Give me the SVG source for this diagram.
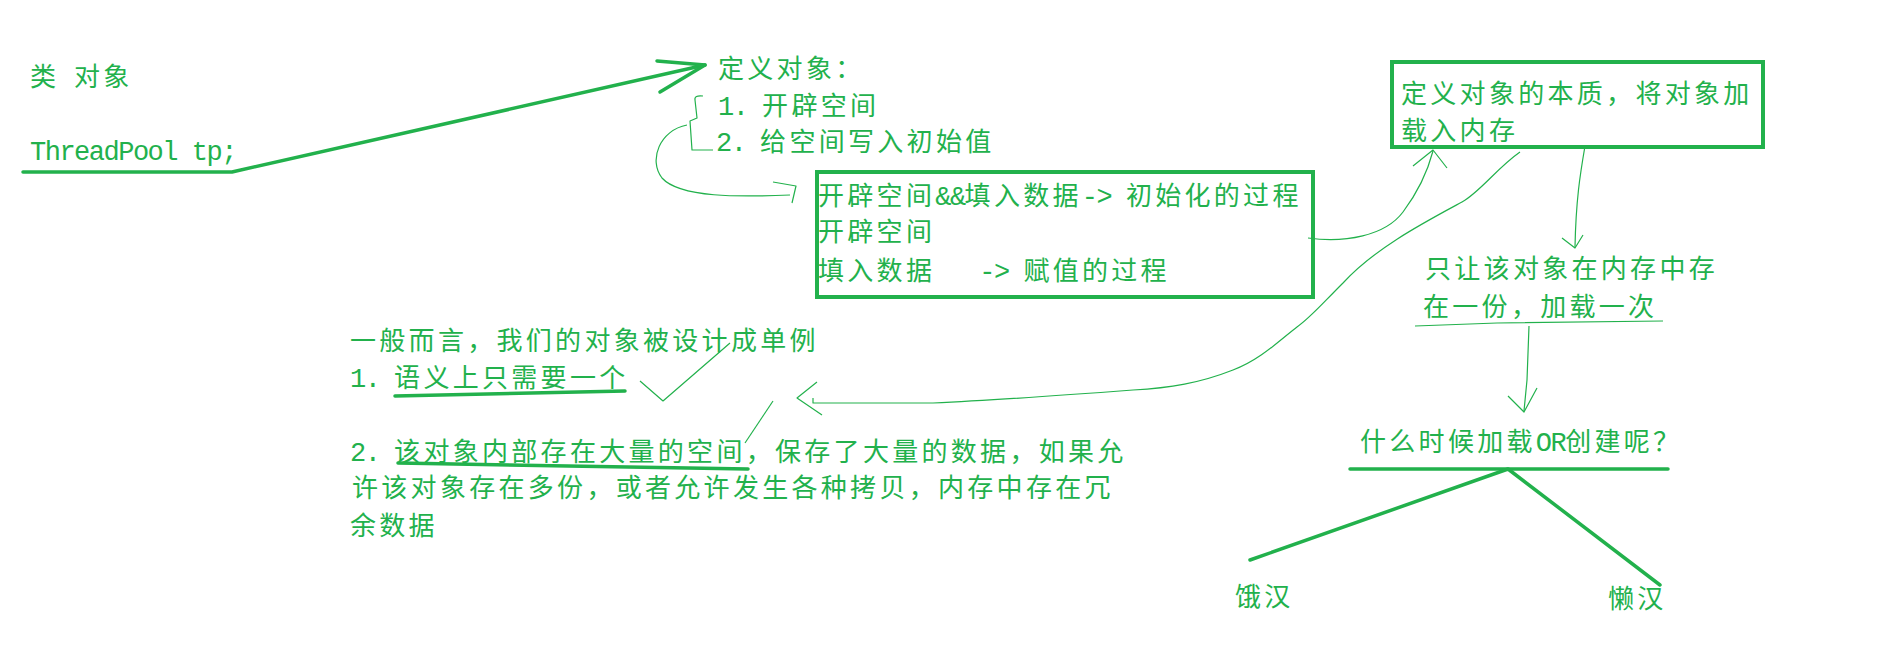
<svg xmlns="http://www.w3.org/2000/svg" width="1890" height="652" viewBox="0 0 1890 652">
<style>
.t { font-family: "Noto Sans CJK SC", "Liberation Sans", sans-serif; font-size: 26px; letter-spacing: 3.3px; fill: #22b14c; }
.m { font-family: "Liberation Mono", "Noto Sans CJK SC", monospace; font-size: 27px; letter-spacing: -1.5px; }
.box { fill: none; stroke: #22b14c; stroke-width: 4; }
.thick { fill: none; stroke: #22b14c; stroke-width: 3.5; stroke-linecap: round; stroke-linejoin: round; }
.thin { fill: none; stroke: #22b14c; stroke-width: 1.2; stroke-linejoin: round; }
</style>
<rect width="1890" height="652" fill="#ffffff"/>

<g id="connectors">
  <polyline class="thick" points="23,172 232,172 705,65"/>
  <polyline class="thick" points="657,61 705,65 660,92"/>
  <line class="thick" x1="395" y1="396" x2="625" y2="391"/>
  <line class="thick" x1="398" y1="463" x2="748" y2="469"/>
  <line class="thick" x1="1350" y1="469" x2="1668" y2="469"/>
  <polyline class="thick" points="1250,560 1508,469 1660,585"/>
  <path class="thin" d="M703,96 Q694,95 695,100 L697,118 L690,121 L692,150 L713,150"/>
  <path class="thin" d="M687,125 C660,130 648,160 662,178 C680,198 740,197 790,195"/>
  <polyline class="thin" points="773,182 796,186 792,203"/>
  <path class="thin" d="M1308,238 C1345,243 1385,236 1403,212 C1418,192 1428,170 1433,151"/>
  <polyline class="thin" points="1413,166 1433,150 1447,168"/>
  <path class="thin" d="M1585,146 C1580,175 1576,200 1575,247"/>
  <polyline class="thin" points="1562,238 1575,248 1583,235"/>
  <path class="thin" d="M1520,152 C1497,168 1480,192 1462,202 C1425,222 1375,248 1343,283 C1320,306 1310,318 1297,327 C1280,340 1260,360 1233,370 C1200,383 1170,388 1133,390 C1080,394 1000,400 933,403 L813,403 L813,398"/>
  <polyline class="thin" points="817,382 797,398 822,415"/>
  <polyline class="thin" points="1415,326 1497,323 1663,321"/>
  <polyline class="thin" points="1529,326 1527,380 1524,411"/>
  <polyline class="thin" points="1508,396 1524,412 1537,388"/>
  <polyline class="thin" points="640,381 663,401 730,343"/>
  <line class="thin" x1="773" y1="401" x2="745" y2="443"/>
</g>

<g id="n-class">
  <text class="t" x="30" y="86">类<tspan class="m"> </tspan>对象</text>
</g>
<g id="n-decl">
  <text class="t m" x="30" y="160" xml:space="preserve">ThreadPool tp;</text>
</g>
<g id="n-define">
  <text class="t" x="718" y="78">定义对象：</text>
  <text class="t" x="718" y="115" xml:space="preserve"><tspan class="m">1. </tspan>开辟空间</text>
  <text class="t" x="716" y="151" xml:space="preserve"><tspan class="m">2. </tspan>给空间写入初始值</text>
</g>
<g id="n-init">
  <rect class="box" x="817" y="172" width="496" height="125"/>
  <text class="t" x="818" y="205" xml:space="preserve">开辟空间<tspan class="m">&amp;&amp;</tspan>填入数据<tspan class="m">-&gt; </tspan>初始化的过程</text>
  <text class="t" x="818" y="241">开辟空间</text>
  <text class="t" x="818" y="280" xml:space="preserve">填入数据<tspan class="m">   -&gt; </tspan>赋值的过程</text>
</g>
<g id="n-essence">
  <rect class="box" x="1392" y="62" width="371" height="85"/>
  <text class="t" x="1401" y="103">定义对象的本质，将对象加</text>
  <text class="t" x="1401" y="140">载入内存</text>
</g>
<g id="n-once">
  <text class="t" x="1425" y="278">只让该对象在内存中存</text>
  <text class="t" x="1423" y="316">在一份，加载一次</text>
</g>
<g id="n-when">
  <text class="t" x="1360" y="451">什么时候加载<tspan class="m">OR</tspan>创建呢？</text>
</g>
<g id="n-eager">
  <text class="t" x="1235" y="606">饿汉</text>
</g>
<g id="n-lazy">
  <text class="t" x="1608" y="608">懒汉</text>
</g>
<g id="n-singleton">
  <text class="t" x="350" y="350">一般而言，我们的对象被设计成单例</text>
  <text class="t" x="350" y="387" xml:space="preserve"><tspan class="m">1. </tspan>语义上只需要一个</text>
  <text class="t" x="350" y="461" xml:space="preserve"><tspan class="m">2. </tspan>该对象内部存在大量的空间，保存了大量的数据，如果允</text>
  <text class="t" x="352" y="497">许该对象存在多份，或者允许发生各种拷贝，内存中存在冗</text>
  <text class="t" x="350" y="535">余数据</text>
</g>
</svg>
